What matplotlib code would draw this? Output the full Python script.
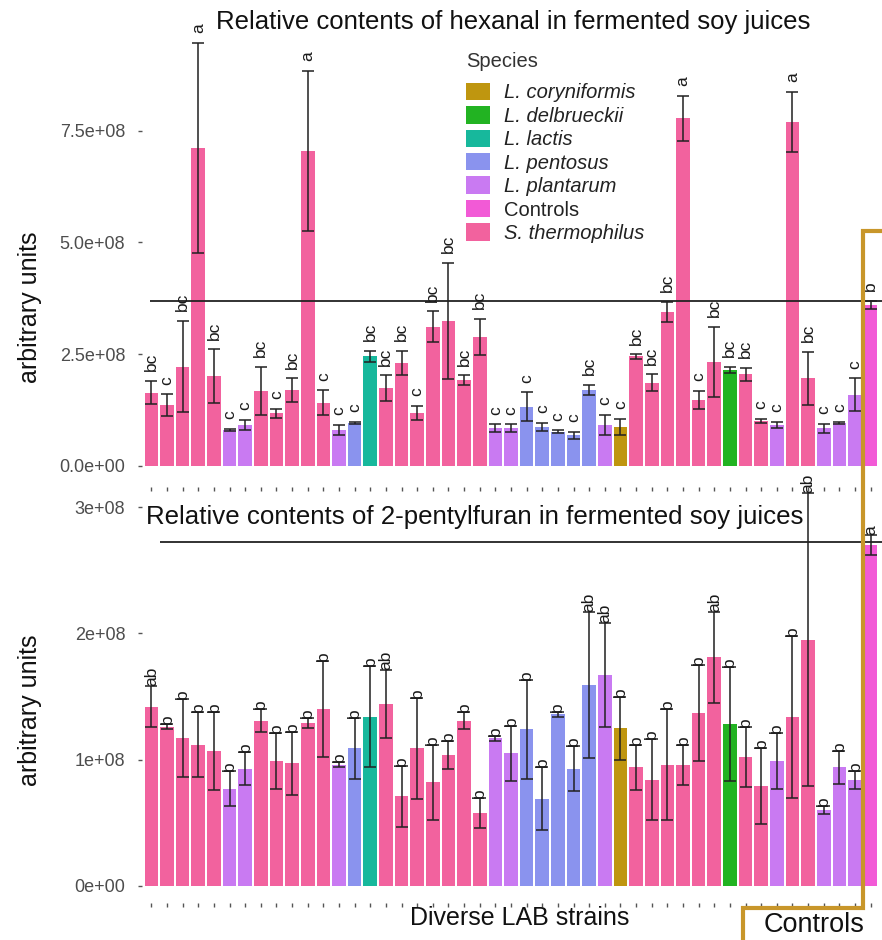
import matplotlib
matplotlib.use('Agg')
import matplotlib.pyplot as plt
from matplotlib.patches import Patch
from matplotlib.lines import Line2D
import numpy as np

plt.rcParams['font.family'] = ['Liberation Sans', 'DejaVu Sans']

# ---------------- data ----------------
strains = list(range(1, 48))

species = (['S. thermophilus'] * 5 + ['L. plantarum'] * 2 + ['S. thermophilus'] * 5 +
           ['L. plantarum', 'L. pentosus', 'L. lactis'] + ['S. thermophilus'] * 7 +
           ['L. plantarum'] * 2 + ['L. pentosus'] * 5 + ['L. plantarum', 'L. coryniformis'] +
           ['S. thermophilus'] * 6 + ['L. delbrueckii'] + ['S. thermophilus'] * 2 +
           ['L. plantarum'] + ['S. thermophilus'] * 2 + ['L. plantarum'] * 3 + ['Controls'])

hexanal_mean = [1.64, 1.36, 2.22, 7.11, 2.01, 0.81, 0.92, 1.68, 1.18, 1.70,
                7.05, 1.42, 0.81, 0.97, 2.45, 1.74, 2.31, 1.18, 3.12, 3.25,
                1.92, 2.89, 0.84, 0.84, 1.33, 0.88, 0.77, 0.69, 1.70, 0.92,
                0.88, 2.45, 1.86, 3.45, 7.78, 1.48, 2.33, 2.15, 2.05, 1.01,
                0.92, 7.70, 1.96, 0.84, 0.97, 1.59, 3.60]
hexanal_sd = [0.26, 0.24, 1.02, 2.35, 0.60, 0.02, 0.12, 0.54, 0.10, 0.26,
              1.79, 0.27, 0.11, 0.02, 0.13, 0.29, 0.27, 0.16, 0.34, 1.30,
              0.11, 0.40, 0.09, 0.09, 0.32, 0.09, 0.03, 0.08, 0.12, 0.22,
              0.18, 0.05, 0.19, 0.22, 0.50, 0.20, 0.78, 0.07, 0.15, 0.05,
              0.06, 0.67, 0.59, 0.11, 0.02, 0.37, 0.09]
hexanal_letters = ['bc', 'c', 'bc', 'a', 'bc', 'c', 'c', 'bc', 'c', 'bc',
                   'a', 'c', 'c', 'c', 'bc', 'bc', 'bc', 'c', 'bc', 'bc',
                   'bc', 'bc', 'c', 'c', 'c', 'c', 'c', 'c', 'bc', 'c',
                   'c', 'bc', 'bc', 'bc', 'a', 'c', 'bc', 'bc', 'bc', 'c',
                   'c', 'a', 'bc', 'c', 'c', 'c', 'b']

pentylfuran_mean = [1.42, 1.26, 1.17, 1.12, 1.07, 0.77, 0.93, 1.31, 0.99, 0.97,
                    1.29, 1.40, 0.96, 1.09, 1.34, 1.44, 0.71, 1.09, 0.82, 1.04,
                    1.31, 0.58, 1.17, 1.05, 1.24, 0.69, 1.36, 0.93, 1.59, 1.67,
                    1.25, 0.94, 0.84, 0.96, 0.96, 1.37, 1.81, 1.28, 1.02, 0.79,
                    0.99, 1.34, 1.95, 0.60, 0.94, 0.84, 2.70]
pentylfuran_sd = [0.16, 0.02, 0.31, 0.26, 0.31, 0.14, 0.13, 0.09, 0.22, 0.25,
                  0.04, 0.38, 0.02, 0.24, 0.40, 0.27, 0.24, 0.40, 0.30, 0.11,
                  0.07, 0.12, 0.02, 0.22, 0.39, 0.25, 0.02, 0.18, 0.58, 0.41,
                  0.25, 0.18, 0.32, 0.44, 0.16, 0.38, 0.36, 0.45, 0.24, 0.30,
                  0.22, 0.64, 1.16, 0.03, 0.13, 0.07, 0.08]
pentylfuran_letters = ['ab'] + ['b'] * 14 + ['ab'] + ['b'] * 12 + ['ab', 'ab'] + \
                      ['b'] * 6 + ['ab'] + ['b'] * 5 + ['ab'] + ['b'] * 3 + ['a']

hexanal_ref = 3.68
pentylfuran_ref = 2.72
scale = 1e8

species_order = ['L. coryniformis', 'L. delbrueckii', 'L. lactis', 'L. pentosus',
                 'L. plantarum', 'Controls', 'S. thermophilus']
species_colors = {'L. coryniformis': '#BF960F', 'L. delbrueckii': '#22B322',
                  'L. lactis': '#17B89C', 'L. pentosus': '#8A93EE',
                  'L. plantarum': '#C97AF2', 'Controls': '#F25AD6',
                  'S. thermophilus': '#F2629E'}

hexanal_ticks = [0, 2.5e8, 5.0e8, 7.5e8]
hexanal_ticklabels = ['0.0e+00', '2.5e+08', '5.0e+08', '7.5e+08']
pentylfuran_ticks = [0, 1e8, 2e8, 3e8]
pentylfuran_ticklabels = ['0e+00', '1e+08', '2e+08', '3e+08']

title_top = 'Relative contents of hexanal in fermented soy juices'
title_bottom = 'Relative contents of 2-pentylfuran in fermented soy juices'

# ---------------- figure ----------------
W, H = 882, 940
fig = plt.figure(figsize=(W / 100, H / 100), dpi=100)

def fx(px):
    return px / W

def fy(py):
    return 1 - py / H

ax1 = fig.add_axes([fx(142), fy(487), fx(880) - fx(142), fy(23) - fy(487)])
ax2 = fig.add_axes([fx(142), fy(903), fx(880) - fx(142), fy(470) - fy(903)])

colors = [species_colors[s] for s in species]
x = np.array(strains)

def draw(ax, mean, sd, letters, ref, ref_start, ylim, ticks, ticklabels, offset):
    m = np.array(mean) * scale
    s = np.array(sd) * scale
    ax.bar(x, m, width=0.87, color=colors, edgecolor='none', zorder=2)
    ax.errorbar(x, m, yerr=s, fmt='none', ecolor='#222222', alpha=0.85,
                elinewidth=1.3, capsize=4.5, capthick=1.3, zorder=3)
    ax.hlines(ref * scale, ref_start, 47.75, color='#222222', lw=1.3, zorder=4,
              clip_on=False)
    for xi, yi, lab in zip(x, m + s, letters):
        ax.annotate(lab, (xi, yi), xytext=(0, offset), textcoords='offset points',
                    rotation=90, ha='center', va='bottom', fontsize=12.5,
                    color='#1a1a1a', annotation_clip=False, zorder=5)
    ax.set_xlim(0.4, 47.6)
    ax.set_ylim(*ylim)
    ax.set_yticks(ticks)
    ax.set_yticklabels(ticklabels)
    ax.set_xticks(x)
    ax.set_xticklabels([])
    for sp in ax.spines.values():
        sp.set_visible(False)
    ax.tick_params(axis='y', length=3, width=1, color='#555555', labelcolor='#4D4D4D',
                   labelsize=13, pad=9)
    ax.tick_params(axis='x', length=3, width=1, color='#555555')
    ax.patch.set_visible(False)

draw(ax1, hexanal_mean, hexanal_sd, hexanal_letters, hexanal_ref, 0.9,
     (-0.47e8, 9.91e8), hexanal_ticks, hexanal_ticklabels, 7)
draw(ax2, pentylfuran_mean, pentylfuran_sd, pentylfuran_letters, pentylfuran_ref, 1.55,
     (-0.135e8, 3.294e8), pentylfuran_ticks, pentylfuran_ticklabels, 0)

# titles
fig.text(fx(513), fy(22), title_top, ha='center', va='center', fontsize=18.5, color='#111111')
fig.text(fx(146), fy(517), title_bottom, ha='left', va='center', fontsize=18.6, color='#111111')

# y labels
fig.text(fx(30), fy(307), 'arbitrary units', rotation=90, ha='center', va='center',
         fontsize=18, color='#111111')
fig.text(fx(30), fy(710), 'arbitrary units', rotation=90, ha='center', va='center',
         fontsize=18, color='#111111')

# x label
fig.text(fx(520), fy(918), 'Diverse LAB strains', ha='center', va='center',
         fontsize=18, color='#111111')

# controls bracket
gold = '#C8962A'
fig.add_artist(Line2D([fx(882), fx(863), fx(863), fx(743), fx(743)],
                      [fy(231), fy(231), fy(908), fy(908), fy(940)],
                      color=gold, lw=3, transform=fig.transFigure, solid_joinstyle='miter'))
fig.text(fx(814), fy(925), 'Controls', ha='center', va='center', fontsize=19.5,
         color='#111111')

# legend
handles = [Patch(facecolor=species_colors[s], edgecolor='none') for s in species_order]
leg = ax1.legend(handles, species_order, title='Species', loc='upper left',
                 bbox_to_anchor=(fx(466), fy(52)), bbox_transform=fig.transFigure,
                 frameon=False, fontsize=14.5, title_fontsize=14.5,
                 handlelength=1.2, handleheight=0.95, labelspacing=0.19,
                 handletextpad=0.7, borderpad=0, borderaxespad=0, alignment='left')
leg._legend_box.sep = 0.42 * 14.5 * 100 / 72
for t in leg.get_texts():
    if t.get_text() != 'Controls':
        t.set_fontstyle('italic')
    t.set_color('#222222')
leg.get_title().set_color('#333333')

fig.savefig('out.png', dpi=100)
